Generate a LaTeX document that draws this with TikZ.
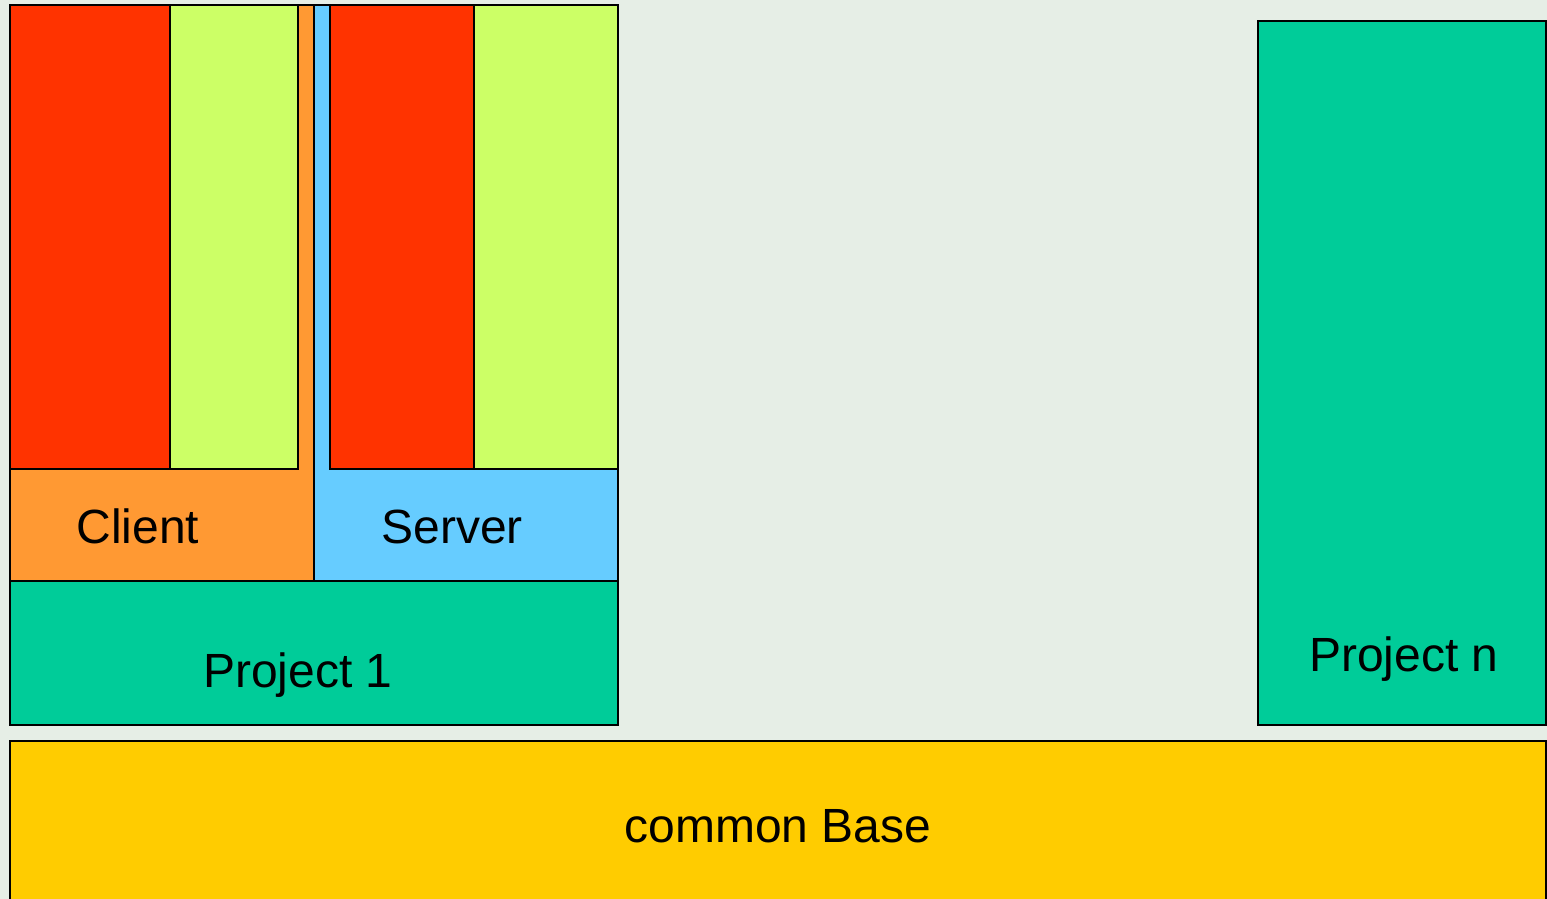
\documentclass[tikz,border=0pt]{standalone}
\usepackage{fontspec}
\setmainfont{Liberation Sans}
\definecolor{bg}{HTML}{E6EEE6}
\definecolor{cred}{HTML}{FF3300}
\definecolor{clime}{HTML}{CCFF66}
\definecolor{corange}{HTML}{FF9933}
\definecolor{cblue}{HTML}{66CCFF}
\definecolor{cgreen}{HTML}{00CC99}
\definecolor{cyellow}{HTML}{FFCC00}
\begin{document}
\begin{tikzpicture}[x=1pt,y=-1pt,
  box/.style={draw=black,line width=2pt},
  lbl/.style={anchor=base,inner sep=0pt,font=\fontsize{48}{54}\selectfont}]
\fill[bg] (0,0) rectangle (1547,899);
\useasboundingbox (0,0) rectangle (1547,899);
% common base
\filldraw[box,fill=cyellow] (10,741) rectangle (1546,905);
% project n
\filldraw[box,fill=cgreen] (1258,21) rectangle (1546,725);
% project 1
\filldraw[box,fill=cgreen] (10,581) rectangle (618,725);
% client and server
\filldraw[box,fill=corange] (10,5) rectangle (314,581);
\filldraw[box,fill=cblue] (314,5) rectangle (618,581);
\filldraw[box,fill=cred] (10,5) rectangle (170,469);
\filldraw[box,fill=clime] (170,5) rectangle (298,469);
\filldraw[box,fill=cred] (330,5) rectangle (474,469);
\filldraw[box,fill=clime] (474,5) rectangle (618,469);
\draw[box] (10,5) rectangle (618,725);
% labels
\node[lbl] (client) at (138,543) {Client};
\node[lbl] (server) at (452,543) {Server};
\node[lbl] (p1) at (298,687) {Project 1};
\node[lbl] (pn) at (1404,671) {Project n};
\node[lbl] (base) at (778,842) {common Base};
\end{tikzpicture}
\end{document}
